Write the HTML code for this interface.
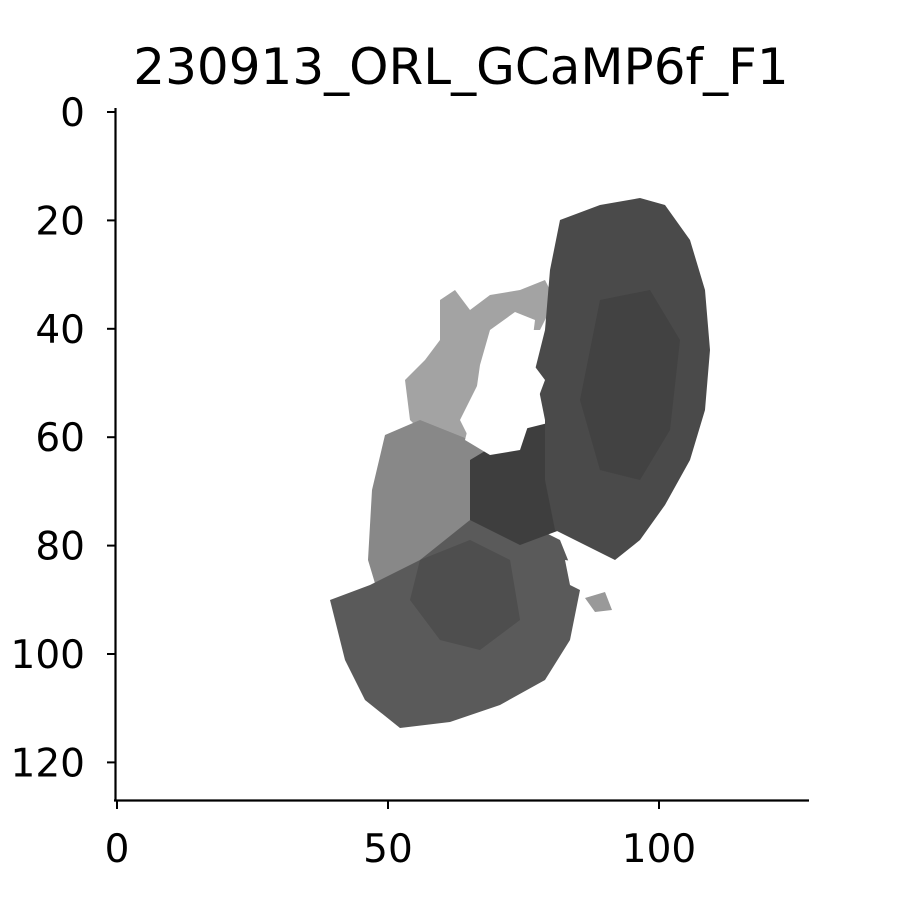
<!DOCTYPE html>
<html><head><meta charset="utf-8"><style>
body{margin:0;background:#fff}
svg{display:block}
text{font-family:"DejaVu Sans","Liberation Sans",sans-serif;fill:#000}
</style></head><body>
<svg id="chart" width="900" height="900" viewBox="0 0 900 900" xmlns="http://www.w3.org/2000/svg">
<rect width="900" height="900" fill="#fff"/>
<text x="461" y="84" font-size="50" text-anchor="middle">230913_ORL_GCaMP6f_F1</text>
<g id="image">
  <path d="M440,300 L455,290 L470,310 L490,295 L520,290 L545,280 L555,300 L540,330 L520,330 L505,320 L490,340 L480,380 L460,420 L470,440 L430,440 L410,420 L405,380 L425,360 L440,340 Z" fill="#a3a3a3"/>
  <path d="M385,435 L420,420 L470,440 L500,430 L520,450 L490,470 L470,520 L440,560 L420,600 L380,600 L368,560 L372,490 Z" fill="#888"/>
  <path d="M330,600 L370,585 L420,560 L470,520 L520,520 L560,540 L580,590 L570,640 L545,680 L500,705 L450,722 L400,728 L365,700 L345,660 Z" fill="#5a5a5a"/>
  <path d="M420,560 L470,540 L510,560 L520,620 L480,650 L440,640 L410,600 Z" fill="#4e4e4e"/>
  <path d="M470,460 L520,430 L560,420 L580,470 L560,530 L520,545 L470,520 Z" fill="#3e3e3e"/>
  <path d="M560,220 L600,205 L640,198 L665,205 L690,240 L705,290 L710,350 L705,410 L690,460 L665,505 L640,540 L615,560 L585,545 L555,530 L545,480 L545,420 L535,370 L545,330 L550,270 Z" fill="#4a4a4a"/>
  <path d="M600,300 L650,290 L680,340 L670,430 L640,480 L600,470 L580,400 Z" fill="#424242"/>
  <path d="M490,330 L515,312 L535,320 L530,360 L545,380 L530,420 L520,450 L490,455 L465,440 L475,400 L480,365 Z" fill="#fff"/>
  <path d="M565,560 L600,565 L615,585 L590,595 L570,585 Z" fill="#fff"/>
  <path d="M585,598 L605,592 L612,610 L595,612 Z" fill="#999"/>
</g>
<g id="axes">
  <line x1="115.5" y1="108" x2="115.5" y2="801" stroke="#000" stroke-width="2.2"/>
  <line x1="114" y1="800.5" x2="809" y2="800.5" stroke="#000" stroke-width="2.2"/>
  <g id="yt"></g><g id="xt"></g>
</g>
</svg>
<script>
const xTicks=[0,50,100];
const yTicks=[0,20,40,60,80,100,120];
const scale=5.42, x0=117, y0=112;
const ns="http://www.w3.org/2000/svg";
const yt=document.getElementById('yt'), xt=document.getElementById('xt');
yTicks.forEach(v=>{
  const y=y0+v*scale;
  const l=document.createElementNS(ns,'line');
  l.setAttribute('x1',107);l.setAttribute('x2',115);l.setAttribute('y1',y);l.setAttribute('y2',y);
  l.setAttribute('stroke','#000');l.setAttribute('stroke-width','2');
  
  
  yt.appendChild(l);
  const t=document.createElementNS(ns,'text');
  t.setAttribute('x',85);t.setAttribute('y',y+14);t.setAttribute('font-size','39');t.setAttribute('text-anchor','end');
  t.textContent=v;
  
  
  yt.appendChild(t);
});
xTicks.forEach(v=>{
  const x=x0+v*scale;
  const l=document.createElementNS(ns,'line');
  l.setAttribute('x1',x);l.setAttribute('x2',x);l.setAttribute('y1',801);l.setAttribute('y2',809);
  l.setAttribute('stroke','#000');l.setAttribute('stroke-width','2');
  
  
  xt.appendChild(l);
  const t=document.createElementNS(ns,'text');
  t.setAttribute('x',x);t.setAttribute('y',862);t.setAttribute('font-size','39');t.setAttribute('text-anchor','middle');
  t.textContent=v;
  
  
  xt.appendChild(t);
});
</script>
</body></html>
